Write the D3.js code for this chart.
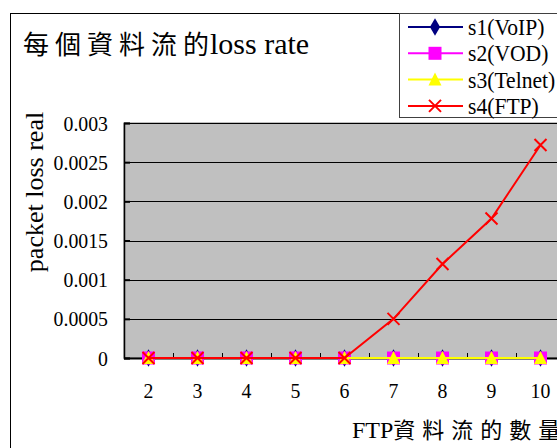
<!DOCTYPE html>
<html>
<head>
<meta charset="utf-8">
<script src="https://cdn.jsdelivr.net/npm/d3@7"></script>
<style>
  body { margin: 0; background: #fff; }
  text { font-family: "Liberation Serif", "Noto Sans CJK TC", serif; fill: #000; }
</style>
</head>
<body>
<div id="chart"></div>
<script>
var categories = ["2", "3", "4", "5", "6", "7", "8", "9", "10"];
var seriesNames = ["s1(VoIP)", "s2(VOD)", "s3(Telnet)", "s4(FTP)"];
var s1 = [0, 0, 0, 0, 0, 0, 0, 0, 0];
var s2 = [0, 0, 0, 0, 0, 0, 0, 0, 0];
var s3 = [0, 0, 0, 0, 0, 0, 0, 0, 0];
var s4 = [0, 0, 0, 0, 0, 0.0005, 0.0012, 0.00178, 0.00272];
var yTicks = [0, 0.0005, 0.001, 0.0015, 0.002, 0.0025, 0.003];
var yTickLabels = ["0", "0.0005", "0.001", "0.0015", "0.002", "0.0025", "0.003"];

var colors = ["#000080", "#ff00ff", "#ffff00", "#ff0000"];
var shapes = ["diamond", "square", "triangle", "cross"];
var allSeries = [s1, s2, s3, s4];

var W = 557, H = 448;
var squeeze = 0.9;   // the original font is narrow and tall

var svg = d3.select("#chart").append("svg")
    .attr("width", W)
    .attr("height", H);

// outer chart frame (runs off the right/bottom)
svg.append("rect")
    .attr("x", 10.5).attr("y", 13.5)
    .attr("width", 600).attr("height", 500)
    .attr("fill", "#fff")
    .attr("stroke", "#000")
    .attr("stroke-width", 1);

var plot = { left: 124, top: 123, right: 565, bottom: 358 };

var x = d3.scaleBand().domain(categories).range([plot.left, plot.right]);
var y = d3.scaleLinear().domain([0, 0.003]).range([plot.bottom, plot.top]);
var cx = function(i) { return x(categories[i]) + x.bandwidth() / 2; };

// narrow text helper
function narrowText(parent, tx, ty, str, size, anchor) {
    return parent.append("text")
        .attr("transform", "translate(" + tx + "," + ty + ") scale(" + squeeze + ",1)")
        .attr("text-anchor", anchor || "start")
        .attr("font-size", size + "px")
        .text(str);
}

// plot background
svg.append("rect")
    .attr("x", plot.left).attr("y", plot.top)
    .attr("width", plot.right - plot.left).attr("height", plot.bottom - plot.top)
    .attr("fill", "#c0c0c0")
    .attr("stroke", "#808080");

// gridlines
svg.append("g")
    .selectAll("line")
    .data(yTicks.slice(1))
    .enter()
    .append("line")
        .attr("x1", plot.left).attr("x2", plot.right)
        .attr("y1", function(d) { return Math.round(y(d)) + 0.5; })
        .attr("y2", function(d) { return Math.round(y(d)) + 0.5; })
        .attr("stroke", "#000");

// y axis
var yAxis = svg.append("g")
    .attr("transform", "translate(" + plot.left + ",0)")
    .call(d3.axisLeft(y).tickValues(yTicks).tickSize(-6).tickFormat(""));
yAxis.select(".domain").attr("stroke", "#000").attr("stroke-width", 1.5);
yAxis.selectAll(".tick line").attr("stroke", "#000").attr("stroke-width", 2);
yTicks.forEach(function(v, i) {
    narrowText(svg, 108, y(v) + 7.5, yTickLabels[i], 22, "end");
});

// x axis
var xAxis = svg.append("g")
    .attr("transform", "translate(0," + plot.bottom + ")");
xAxis.append("line")
    .attr("x1", plot.left).attr("x2", plot.right)
    .attr("y1", 0.5).attr("y2", 0.5)
    .attr("stroke", "#000").attr("stroke-width", 2);
xAxis.selectAll(".xtick")
    .data(categories.slice(1))
    .enter()
    .append("line")
        .attr("x1", function(d) { return Math.round(x(d)) + 0.5; })
        .attr("x2", function(d) { return Math.round(x(d)) + 0.5; })
        .attr("y1", 0).attr("y2", -5)
        .attr("stroke", "#000");
categories.forEach(function(c, i) {
    narrowText(xAxis, cx(i), 40, c, 22, "middle");
});

// series
function drawMarker(g, shape, color, px, py) {
    if (shape === "diamond") {
        g.append("path")
            .attr("d", d3.symbol().type(d3.symbolDiamond).size(90)())
            .attr("transform", "translate(" + px + "," + py + ")")
            .attr("fill", color);
    } else if (shape === "square") {
        g.append("rect")
            .attr("x", px - 6.5).attr("y", py - 6.5)
            .attr("width", 13).attr("height", 13)
            .attr("fill", color);
    } else if (shape === "triangle") {
        g.append("path")
            .attr("d", "M" + px + "," + (py - 7) + "L" + (px + 6.5) + "," + (py + 6) + "L" + (px - 6.5) + "," + (py + 6) + "Z")
            .attr("fill", color);
    } else {
        g.append("path")
            .attr("d", "M" + (px - 6) + "," + (py - 6) + "L" + (px + 6) + "," + (py + 6) +
                       "M" + (px + 6) + "," + (py - 6) + "L" + (px - 6) + "," + (py + 6))
            .attr("stroke", color)
            .attr("stroke-width", 2)
            .attr("fill", "none");
    }
}

var line = d3.line()
    .x(function(d, i) { return cx(i); })
    .y(function(d) { return y(d); });

allSeries.forEach(function(data, k) {
    var g = svg.append("g");
    g.append("path")
        .datum(data)
        .attr("d", line)
        .attr("fill", "none")
        .attr("stroke", colors[k])
        .attr("stroke-width", 2);
    data.forEach(function(v, i) {
        drawMarker(g, shapes[k], colors[k], cx(i), y(v));
    });
});

// title
var title = svg.append("text")
    .attr("x", 23).attr("y", 54);
title.append("tspan")
    .attr("font-size", "26px")
    .attr("letter-spacing", "6px")
    .text("每個資料流的");
title.append("tspan")
    .attr("font-size", "30px")
    .attr("dx", -5)
    .text("loss rate");

// y axis title
svg.append("text")
    .attr("transform", "translate(43,192) rotate(-90)")
    .attr("text-anchor", "middle")
    .attr("font-size", "26px")
    .text("packet loss real");

// x axis title
var xTitle = svg.append("text")
    .attr("x", 352).attr("y", 438);
xTitle.append("tspan")
    .attr("font-size", "24px")
    .text("FTP");
xTitle.append("tspan")
    .attr("font-size", "22px")
    .attr("letter-spacing", "7px")
    .text("資料流的數量");

// legend
var legend = svg.append("g");
legend.append("rect")
    .attr("x", 399.5).attr("y", 13.5)
    .attr("width", 300).attr("height", 104)
    .attr("fill", "#fff")
    .attr("stroke", "#404040");
seriesNames.forEach(function(name, k) {
    var ly = 27 + k * 26.3;
    var g = legend.append("g");
    g.append("line")
        .attr("x1", 408).attr("x2", 463)
        .attr("y1", ly).attr("y2", ly)
        .attr("stroke", colors[k])
        .attr("stroke-width", 2);
    drawMarker(g, shapes[k], colors[k], 435, ly);
    narrowText(g, 468, ly + 8, name, 24, "start");
});
</script>
</body>
</html>
